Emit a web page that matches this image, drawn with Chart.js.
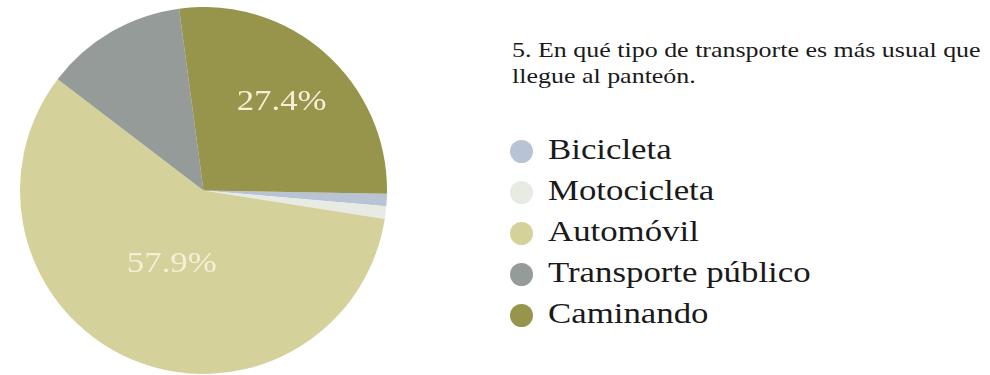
<!DOCTYPE html>
<html lang="es">
<head>
<meta charset="utf-8">
<title>Transporte al panteón</title>
<script src="https://cdn.jsdelivr.net/npm/chart.js@4.4.1/dist/chart.umd.min.js"></script>
<style>
    html, body {
        margin: 0;
        padding: 0;
        background: #ffffff;
    }
    #lienzo {
        position: relative;
        width: 990px;
        height: 375px;
        overflow: hidden;
        font-family: "Liberation Serif", "DejaVu Serif", serif;
        color: #1a1a1a;
    }
    #cajaPastel {
        position: absolute;
        left: 20px;
        top: 7px;
        width: 367px;
        height: 367px;
    }
    #titulo {
        position: absolute;
        left: 512px;
        top: 37px;
        margin: 0;
        font-size: 22px;
        font-weight: normal;
        line-height: 26px;
        white-space: nowrap;
        transform: scaleX(1.18);
        transform-origin: left top;
    }
    #leyenda {
        position: absolute;
        left: 510px;
        top: 131px;
        margin: 0;
        padding: 0;
        list-style: none;
    }
    #leyenda li {
        position: relative;
        height: 41px;
        line-height: 41px;
        white-space: nowrap;
    }
    #leyenda .punto {
        position: absolute;
        left: 0;
        top: 9px;
        width: 23px;
        height: 23px;
        border-radius: 50%;
    }
    #leyenda .texto {
        position: absolute;
        left: 38px;
        top: -2px;
        font-size: 29px;
        transform: scaleX(1.2);
        transform-origin: left center;
    }
</style>
</head>
<body>
<div id="lienzo">
    <div id="cajaPastel"><canvas id="graficoTransporte" width="367" height="367"></canvas></div>
    <h2 id="titulo">5. En qué tipo de transporte es más usual que<br>llegue al panteón.</h2>
    <ul id="leyenda"></ul>
</div>

<script>
'use strict';

// respuestas de la pregunta 5 (porcentajes)
const labelsTransporte = ['Bicicleta', 'Motocicleta', 'Automóvil', 'Transporte público', 'Caminando'];
const dataTransporte = [1.1, 1.1, 57.9, 12.5, 27.4];
const coloresTransporte = ['#b8c3d5', '#e8eae4', '#d4d19b', '#959b99', '#97944c'];

// solo las rebanadas grandes llevan su porcentaje
const minimoEtiqueta = 20;
// que tan lejos del centro va cada porcentaje (fraccion del radio)
const radioEtiqueta = {2: 0.44, 4: 0.64};

const pluginPorcentajes = {
    id: 'porcentajes',
    afterDatasetsDraw(chart) {
        const ctx = chart.ctx;
        const meta = chart.getDatasetMeta(0);
        const datos = chart.data.datasets[0].data;

        ctx.save();
        ctx.fillStyle = '#f4f0d8';
        ctx.font = '29px "Liberation Serif", serif';
        ctx.textAlign = 'center';
        ctx.textBaseline = 'middle';

        meta.data.forEach((arco, i) => {
            if (datos[i] < minimoEtiqueta) {
                return;
            }
            const p = arco.getProps(['x', 'y', 'startAngle', 'endAngle', 'outerRadius'], true);
            const medio = (p.startAngle + p.endAngle) / 2;
            const r = p.outerRadius * (radioEtiqueta[i] || 0.55);
            const x = p.x + Math.cos(medio) * r;
            const y = p.y + Math.sin(medio) * r;

            ctx.save();
            ctx.translate(x, y);
            ctx.scale(1.2, 1);
            ctx.fillText(datos[i].toFixed(1) + '%', 0, 0);
            ctx.restore();
        });
        ctx.restore();
    }
};

const graficoTransporte = new Chart(document.getElementById('graficoTransporte'), {
    type: 'pie',
    data: {
        labels: labelsTransporte,
        datasets: [{
            data: dataTransporte,
            backgroundColor: coloresTransporte,
            borderWidth: 0
        }]
    },
    options: {
        responsive: false,
        animation: false,
        rotation: 91,
        layout: {
            padding: 0
        },
        plugins: {
            legend: {
                display: false
            },
            tooltip: {
                enabled: false
            }
        }
    },
    plugins: [pluginPorcentajes]
});

// leyenda armada con los mismos datos del grafico
const mostrarLeyenda = () => {
    let lista = document.querySelector('#leyenda');
    lista.innerHTML = '';

    for (let i = 0; i < labelsTransporte.length; i++) {
        let fila = document.createElement('li');
        let punto = document.createElement('span');
        let texto = document.createElement('span');

        punto.className = 'punto';
        punto.style.background = coloresTransporte[i];
        texto.className = 'texto';
        texto.textContent = labelsTransporte[i];

        fila.appendChild(punto);
        fila.appendChild(texto);
        lista.appendChild(fila);
    }
};

mostrarLeyenda();
</script>
</body>
</html>
